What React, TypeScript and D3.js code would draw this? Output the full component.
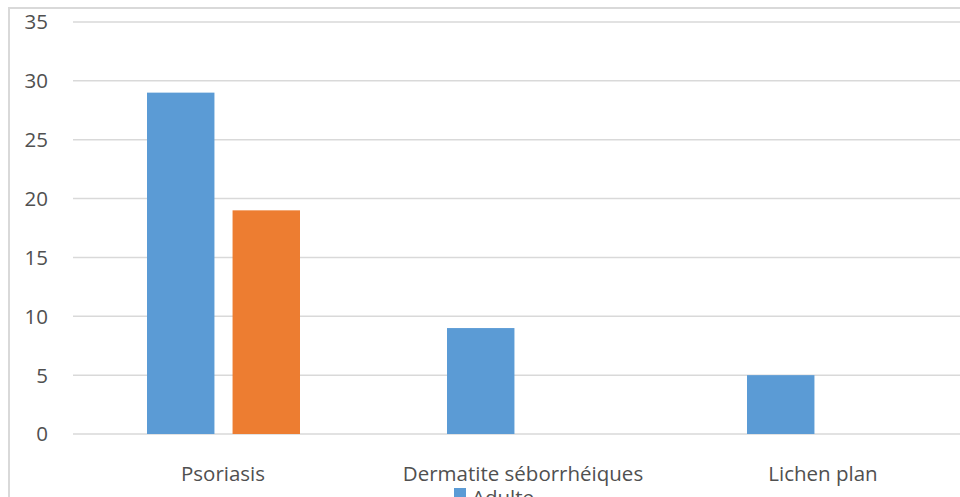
import React from "react";
import * as d3 from "d3";

const categories = ["Psoriasis", "Dermatite séborrhéiques", "Lichen plan"];
const seriesNames = ["Adulte", "Enfant"];
const adultValues = [29, 9, 5];
const childValues = [19, 0, 0];
const yTicks = [0, 5, 10, 15, 20, 25, 30, 35];
const colors = ["#5b9bd5", "#ed7d31"];

const W = 960;
const H = 497;
const FONT = "'Open Sans', 'Liberation Sans', sans-serif";
const FS = 20.5;

export default function App() {
  const y = d3.scaleLinear().domain([0, 35]).range([434, 22]);
  const x0 = d3.scaleBand<string>().domain(categories).range([73, 973]).padding(0);
  const x1 = d3
    .scaleBand<string>()
    .domain(seriesNames)
    .range([74, 227])
    .paddingInner(18 / 85)
    .paddingOuter(0);
  const seriesValues = [adultValues, childValues];

  return (
    <svg
      width={W}
      height={H}
      style={{ position: "fixed", left: 0, top: 0, background: "#fff" }}
      fontFamily={FONT}
    >
      <rect x={0} y={0} width={W} height={H} fill="#fff" />
      {/* outer chart border */}
      <line x1={9} x2={9} y1={7} y2={H} stroke="#d9d9d9" strokeWidth={2} />
      <line x1={8} x2={W} y1={8} y2={8} stroke="#d9d9d9" strokeWidth={2} />
      {/* gridlines */}
      {yTicks.map((t) => (
        <g key={t}>
          <line
            x1={73}
            x2={W}
            y1={y(t)}
            y2={y(t)}
            stroke="#d9d9d9"
            strokeWidth={1.5}
          />
          <text
            x={48}
            y={y(t)}
            dy="0.36em"
            textAnchor="end"
            fontSize={FS}
            fill="#505050"
          >
            {t}
          </text>
        </g>
      ))}
      {/* bars */}
      {categories.map((c, i) => (
        <g key={c} transform={`translate(${x0(c)! - 73},0)`}>
          {seriesNames.map((s, j) => {
            const v = seriesValues[j][i];
            if (!v) return null;
            return (
              <rect
                key={s}
                x={x1(s)! + 73}
                y={y(v)}
                width={x1.bandwidth()}
                height={y(0) - y(v)}
                fill={colors[j]}
              />
            );
          })}
          <text
            x={x0.bandwidth() / 2 + 73}
            y={481}
            textAnchor="middle"
            fontSize={FS}
            fill="#505050"
          >
            {c}
          </text>
        </g>
      ))}
      {/* legend (clipped at bottom, as in the reference) */}
      <rect x={454} y={488} width={12} height={12} fill={colors[0]} />
      <text x={472} y={505} fontSize={FS} fill="#505050">
        {seriesNames[0]}
      </text>
    </svg>
  );
}
